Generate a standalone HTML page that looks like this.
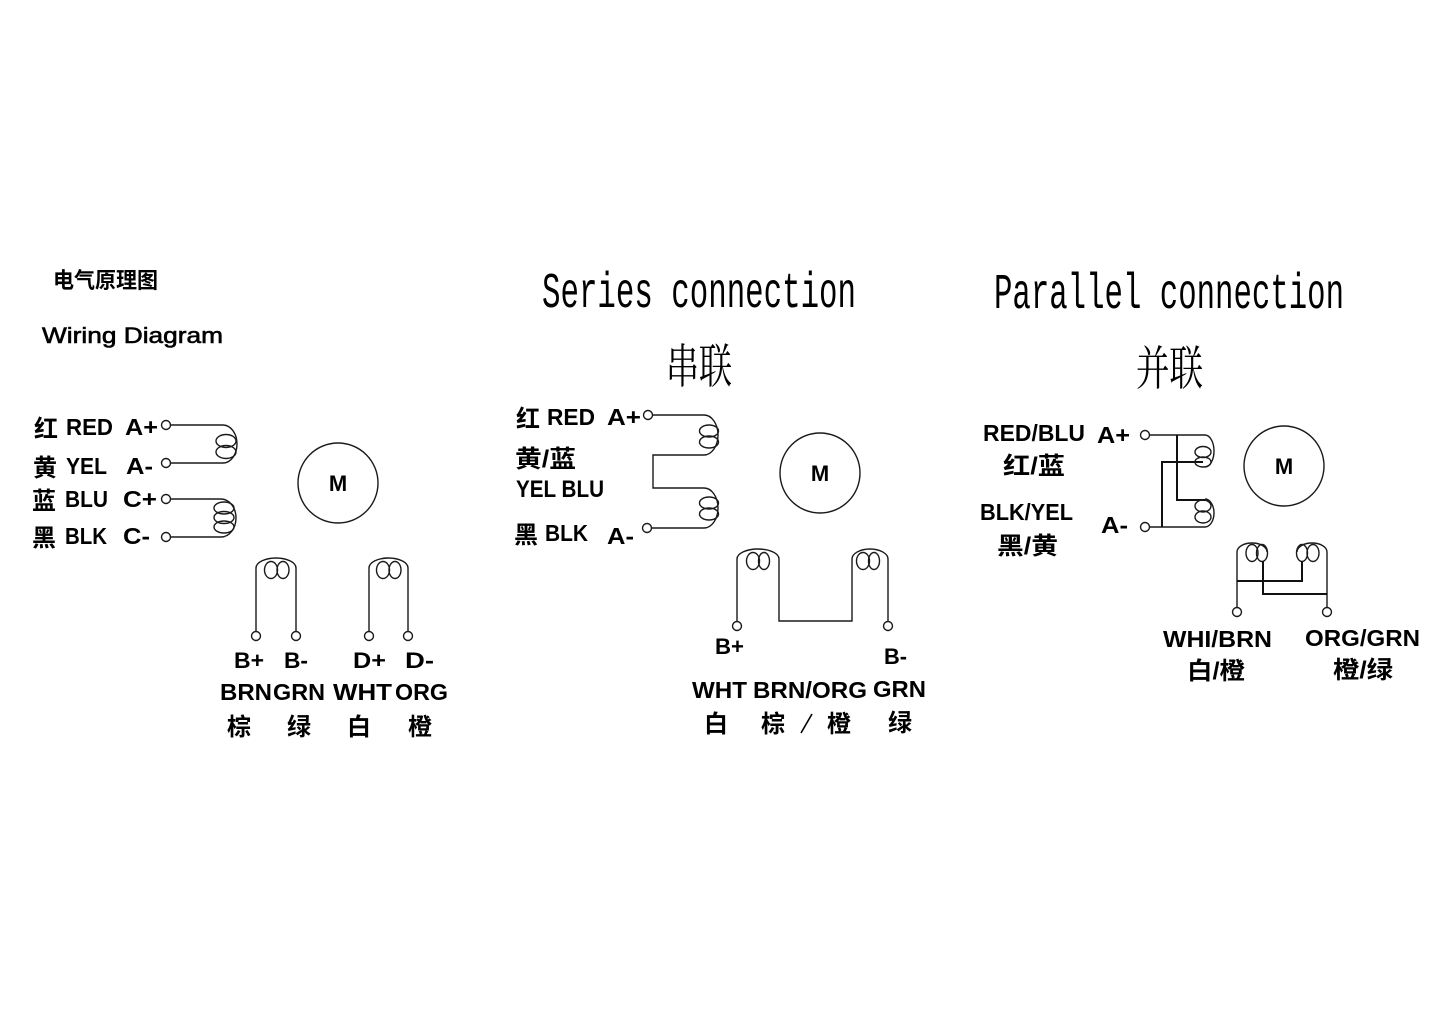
<!DOCTYPE html>
<html>
<head>
<meta charset="utf-8">
<style>
html,body{margin:0;padding:0;background:#fff;}
svg{display:block;}
.l{font-family:"Liberation Sans","Noto Sans CJK SC",sans-serif;font-weight:bold;fill:#000;}
.c{font-family:"Liberation Sans","Noto Sans CJK SC",sans-serif;font-weight:bold;fill:#000;}
.w{stroke:#1a1a1a;stroke-width:1.4;fill:none;}
.t{stroke:#1a1a1a;stroke-width:1.4;fill:#fff;}
.j{stroke:#111;stroke-width:2;fill:none;}
</style>
</head>
<body>
<svg width="1448" height="1024" viewBox="0 0 1448 1024" xmlns="http://www.w3.org/2000/svg">

<!-- ===== LEFT: Wiring diagram ===== -->
<text x="53" y="288" class="c" font-size="22" textLength="105" lengthAdjust="spacingAndGlyphs">电气原理图</text>
<text x="42" y="343" font-family="Liberation Sans, sans-serif" font-size="22" fill="#000" stroke="#000" stroke-width="0.6" textLength="181" lengthAdjust="spacingAndGlyphs">Wiring Diagram</text>

<text x="34" y="437" class="c" font-size="24">红</text>
<text x="66" y="435" class="l" font-size="23" textLength="47" lengthAdjust="spacingAndGlyphs">RED</text>
<text x="125" y="435" class="l" font-size="23" textLength="33" lengthAdjust="spacingAndGlyphs">A+</text>

<text x="33" y="476" class="c" font-size="24">黄</text>
<text x="66" y="474" class="l" font-size="23" textLength="41" lengthAdjust="spacingAndGlyphs">YEL</text>
<text x="126" y="474" class="l" font-size="23" textLength="27" lengthAdjust="spacingAndGlyphs">A-</text>

<text x="32" y="509" class="c" font-size="24">蓝</text>
<text x="65" y="507" class="l" font-size="23" textLength="43" lengthAdjust="spacingAndGlyphs">BLU</text>
<text x="123" y="507" class="l" font-size="23" textLength="34" lengthAdjust="spacingAndGlyphs">C+</text>

<text x="32" y="546" class="c" font-size="24">黑</text>
<text x="65" y="544" class="l" font-size="23" textLength="42" lengthAdjust="spacingAndGlyphs">BLK</text>
<text x="123" y="544" class="l" font-size="23" textLength="27" lengthAdjust="spacingAndGlyphs">C-</text>

<!-- coil A -->
<path class="w" d="M170.5,425 H223 A14,19 0 0 1 223,463 H170.5"/>
<ellipse class="w" cx="226" cy="441" rx="10" ry="6.5"/>
<ellipse class="w" cx="226" cy="452" rx="10" ry="6.5"/>
<circle class="t" cx="166" cy="425" r="4.5"/>
<circle class="t" cx="166" cy="463" r="4.5"/>
<!-- coil C -->
<path class="w" d="M170.5,499 H221 A15,19 0 0 1 221,537 H170.5"/>
<ellipse class="w" cx="224" cy="508" rx="10" ry="6"/>
<ellipse class="w" cx="224" cy="517.5" rx="10" ry="6"/>
<ellipse class="w" cx="224" cy="527" rx="10" ry="6"/>
<circle class="t" cx="166" cy="499" r="4.5"/>
<circle class="t" cx="166" cy="537" r="4.5"/>

<!-- motor -->
<circle class="w" cx="338" cy="483" r="40"/>
<text x="338" y="491" class="l" font-size="22" text-anchor="middle">M</text>

<!-- coil B -->
<path class="w" d="M256,631.5 V568 A20,10 0 0 1 296,568 V631.5"/>
<ellipse class="w" cx="271" cy="570" rx="6.5" ry="8.5"/>
<ellipse class="w" cx="283" cy="570" rx="6" ry="8.5"/>
<circle class="t" cx="256" cy="636" r="4.5"/>
<circle class="t" cx="296" cy="636" r="4.5"/>
<!-- coil D -->
<path class="w" d="M369,631.5 V568 A19.5,10 0 0 1 408,568 V631.5"/>
<ellipse class="w" cx="383" cy="570" rx="6.5" ry="8.5"/>
<ellipse class="w" cx="395" cy="570" rx="6" ry="8.5"/>
<circle class="t" cx="369" cy="636" r="4.5"/>
<circle class="t" cx="408" cy="636" r="4.5"/>

<text x="234" y="668" class="l" font-size="22" textLength="30" lengthAdjust="spacingAndGlyphs">B+</text>
<text x="284" y="668" class="l" font-size="22" textLength="24" lengthAdjust="spacingAndGlyphs">B-</text>
<text x="353" y="668" class="l" font-size="22" textLength="33" lengthAdjust="spacingAndGlyphs">D+</text>
<text x="405" y="668" class="l" font-size="22" textLength="29" lengthAdjust="spacingAndGlyphs">D-</text>

<text x="220" y="700" class="l" font-size="23" textLength="52" lengthAdjust="spacingAndGlyphs">BRN</text>
<text x="273" y="700" class="l" font-size="23" textLength="52" lengthAdjust="spacingAndGlyphs">GRN</text>
<text x="333" y="700" class="l" font-size="23" textLength="59" lengthAdjust="spacingAndGlyphs">WHT</text>
<text x="395" y="700" class="l" font-size="23" textLength="53" lengthAdjust="spacingAndGlyphs">ORG</text>

<text x="227" y="735" class="c" font-size="24">棕</text>
<text x="287" y="735" class="c" font-size="24">绿</text>
<text x="347" y="735" class="c" font-size="24">白</text>
<text x="408" y="735" class="c" font-size="24">橙</text>

<!-- ===== SERIES ===== -->
<text x="542" y="307" font-family="Liberation Mono, monospace" font-size="50" fill="#000" textLength="314" lengthAdjust="spacingAndGlyphs">Series connection</text>
<text x="666" y="383" font-family="Liberation Serif, 'Noto Serif CJK SC', serif" font-size="47" fill="#000" textLength="66" lengthAdjust="spacingAndGlyphs">串联</text>

<text x="516" y="427" class="c" font-size="24">红</text>
<text x="547" y="425" class="l" font-size="23" textLength="48" lengthAdjust="spacingAndGlyphs">RED</text>
<text x="607" y="425" class="l" font-size="23" textLength="34" lengthAdjust="spacingAndGlyphs">A+</text>
<text x="515" y="467" class="c" font-size="24" textLength="61" lengthAdjust="spacingAndGlyphs">黄/蓝</text>
<text x="516" y="497" class="l" font-size="24" textLength="88" lengthAdjust="spacingAndGlyphs">YEL BLU</text>
<text x="514" y="543" class="c" font-size="24">黑</text>
<text x="545" y="541" class="l" font-size="23" textLength="43" lengthAdjust="spacingAndGlyphs">BLK</text>
<text x="607" y="544" class="l" font-size="23" textLength="27" lengthAdjust="spacingAndGlyphs">A-</text>

<path class="w" d="M652.5,415 H704 A14,20 0 0 1 704,455 H653 V488 H704 A14,20 0 0 1 704,528 H651.5"/>
<ellipse class="w" cx="709" cy="431" rx="9.5" ry="6"/>
<ellipse class="w" cx="709" cy="442" rx="9.5" ry="6"/>
<ellipse class="w" cx="709" cy="503" rx="9.5" ry="6"/>
<ellipse class="w" cx="709" cy="514" rx="9.5" ry="6"/>
<circle class="t" cx="648" cy="415" r="4.5"/>
<circle class="t" cx="647" cy="528" r="4.5"/>

<circle class="w" cx="820" cy="473" r="40"/>
<text x="820" y="481" class="l" font-size="22" text-anchor="middle">M</text>

<path class="w" d="M737,621.5 V559 A21,10 0 0 1 779,559 V621 H852 V559 A18,10 0 0 1 888,559 V621.5"/>
<ellipse class="w" cx="753" cy="561" rx="6.5" ry="8.5"/>
<ellipse class="w" cx="764" cy="561" rx="5.5" ry="8.5"/>
<ellipse class="w" cx="863" cy="561" rx="6.5" ry="8.5"/>
<ellipse class="w" cx="874" cy="561" rx="5.5" ry="8.5"/>
<circle class="t" cx="737" cy="626" r="4.5"/>
<circle class="t" cx="888" cy="626" r="4.5"/>

<text x="715" y="654" class="l" font-size="22" textLength="29" lengthAdjust="spacingAndGlyphs">B+</text>
<text x="884" y="664" class="l" font-size="22" textLength="23" lengthAdjust="spacingAndGlyphs">B-</text>
<text x="692" y="698" class="l" font-size="23" textLength="55" lengthAdjust="spacingAndGlyphs">WHT</text>
<text x="753" y="698" class="l" font-size="23" textLength="114" lengthAdjust="spacingAndGlyphs">BRN/ORG</text>
<text x="873" y="697" class="l" font-size="23" textLength="53" lengthAdjust="spacingAndGlyphs">GRN</text>
<text x="704" y="732" class="c" font-size="24">白</text>
<text x="761" y="732" class="c" font-size="24">棕</text>
<path d="M812,714 L801,733" stroke="#000" stroke-width="1.6" fill="none"/>
<text x="827" y="732" class="c" font-size="24">橙</text>
<text x="888" y="731" class="c" font-size="24">绿</text>

<!-- ===== PARALLEL ===== -->
<text x="994" y="308" font-family="Liberation Mono, monospace" font-size="50" fill="#000" textLength="350" lengthAdjust="spacingAndGlyphs">Parallel connection</text>
<text x="1136" y="385" font-family="Liberation Serif, 'Noto Serif CJK SC', serif" font-size="47" fill="#000" textLength="67" lengthAdjust="spacingAndGlyphs">并联</text>

<text x="983" y="441" class="l" font-size="23" textLength="102" lengthAdjust="spacingAndGlyphs">RED/BLU</text>
<text x="1097" y="443" class="l" font-size="23" textLength="33" lengthAdjust="spacingAndGlyphs">A+</text>
<text x="1003" y="474" class="c" font-size="24" textLength="62" lengthAdjust="spacingAndGlyphs">红/蓝</text>
<text x="980" y="520" class="l" font-size="23" textLength="93" lengthAdjust="spacingAndGlyphs">BLK/YEL</text>
<text x="1101" y="533" class="l" font-size="23" textLength="27" lengthAdjust="spacingAndGlyphs">A-</text>
<text x="997" y="554" class="c" font-size="24" textLength="61" lengthAdjust="spacingAndGlyphs">黑/黄</text>

<path class="w" d="M1149.5,435 H1205 A9,16 0 0 1 1205,467"/>
<path class="w" d="M1149.5,527 H1205 A9,14 0 0 0 1205,499"/>
<path class="j" d="M1177,435 V500 H1205"/>
<path class="j" d="M1203,462 H1162 V527"/>
<ellipse class="w" cx="1203" cy="452" rx="8" ry="5.5"/>
<ellipse class="w" cx="1203" cy="462" rx="8" ry="5"/>
<ellipse class="w" cx="1203" cy="506" rx="8" ry="6"/>
<ellipse class="w" cx="1203" cy="517" rx="8" ry="6"/>
<circle class="t" cx="1145" cy="435" r="4.5"/>
<circle class="t" cx="1145" cy="527" r="4.5"/>

<circle class="w" cx="1284" cy="466" r="40"/>
<text x="1284" y="474" class="l" font-size="22" text-anchor="middle">M</text>

<path class="w" d="M1237,607.5 V552 A15,9 0 0 1 1267,552"/>
<path class="w" d="M1297,552 A15,9 0 0 1 1327,552 V607.5"/>
<ellipse class="w" cx="1252" cy="553" rx="6" ry="8.5"/>
<ellipse class="w" cx="1262" cy="553" rx="5.5" ry="8.5"/>
<ellipse class="w" cx="1302" cy="553" rx="5.5" ry="8.5"/>
<ellipse class="w" cx="1313" cy="553" rx="6" ry="8.5"/>
<path class="j" d="M1237,581 H1302 V561"/>
<path class="j" d="M1263,561 V594 H1327"/>
<circle class="t" cx="1237" cy="612" r="4.5"/>
<circle class="t" cx="1327" cy="612" r="4.5"/>

<text x="1163" y="647" class="l" font-size="23" textLength="109" lengthAdjust="spacingAndGlyphs">WHI/BRN</text>
<text x="1305" y="646" class="l" font-size="23" textLength="115" lengthAdjust="spacingAndGlyphs">ORG/GRN</text>
<text x="1187" y="679" class="c" font-size="24" textLength="58" lengthAdjust="spacingAndGlyphs">白/橙</text>
<text x="1333" y="678" class="c" font-size="24" textLength="60" lengthAdjust="spacingAndGlyphs">橙/绿</text>

</svg>
</body>
</html>
